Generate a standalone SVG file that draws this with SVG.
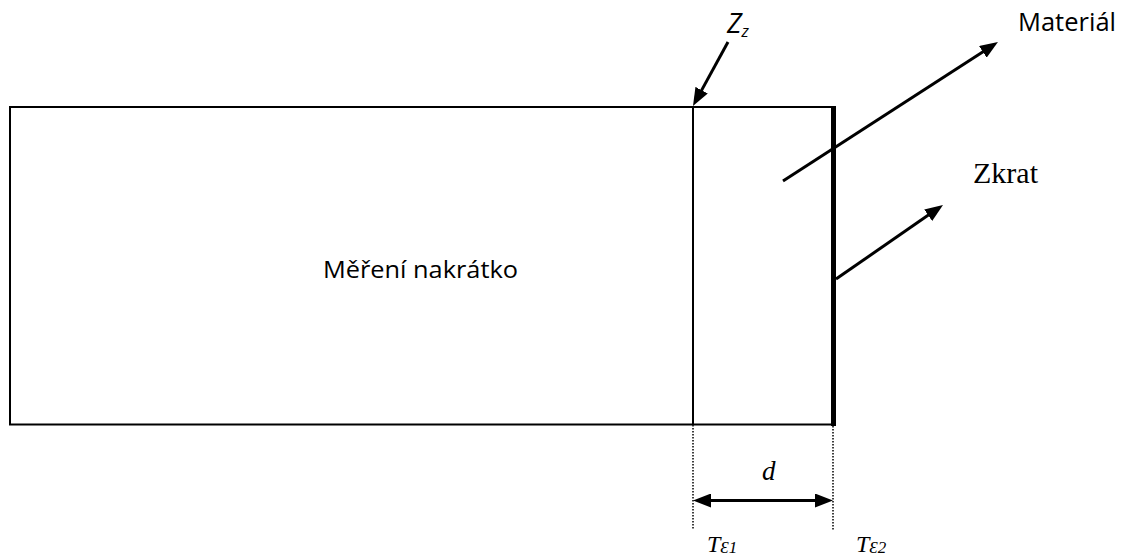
<svg xmlns="http://www.w3.org/2000/svg" width="1122" height="559" viewBox="0 0 1122 559">
<style>
.box{fill:none;stroke:#000;stroke-width:2}
.arr{fill:none;stroke:#000;stroke-width:3}
.dot{fill:none;stroke:#000;stroke-width:1.5;stroke-dasharray:1.5,1.5}
.sans{font-family:"Open Sans","Liberation Sans",sans-serif;fill:#000}
.serif{font-family:"Liberation Serif","DejaVu Serif",serif;fill:#000}
</style>
<defs>
<marker id="ah" markerUnits="userSpaceOnUse" viewBox="0 0 18 14" markerWidth="18" markerHeight="14" refX="9" refY="7" orient="auto-start-reverse">
<path d="M0,0 L18,7 L0,14 z" fill="#000"/>
</marker>
</defs>
<rect width="1122" height="559" fill="#fff"/>
<g id="outer-box">
<rect class="box" x="10" y="107" width="823" height="317.5"/>
<text class="sans" x="323" y="278" font-size="23" textLength="195" lengthAdjust="spacingAndGlyphs">Měření nakrátko</text>
</g>
<g id="material-region">
<line class="box" x1="693" y1="107" x2="693" y2="424.5"/>
</g>
<g id="short-bar">
<rect x="831" y="106" width="5" height="320" fill="#000"/>
</g>
<g id="connectors">
<line class="arr" x1="728" y1="42" x2="697.3" y2="98.1" marker-end="url(#ah)"/>
<line class="arr" x1="783" y1="181" x2="990.4" y2="46.9" marker-end="url(#ah)"/>
<line class="arr" x1="836" y1="279" x2="935.6" y2="210.1" marker-end="url(#ah)"/>
<line class="arr" x1="702" y1="500.5" x2="824" y2="500.5" marker-start="url(#ah)" marker-end="url(#ah)"/>
<line class="dot" x1="693" y1="425" x2="693" y2="530"/>
<line class="dot" x1="833" y1="426" x2="833" y2="530"/>
</g>
<g id="labels">
<text class="sans" x="727" y="33" font-size="28" font-style="italic" textLength="22" lengthAdjust="spacingAndGlyphs">Z<tspan font-size="17" dy="4">z</tspan></text>
<text class="sans" x="1018" y="31" font-size="26" textLength="98" lengthAdjust="spacingAndGlyphs">Materiál</text>
<text class="serif" x="973" y="183" font-size="30">Zkrat</text>
<text class="serif" x="762" y="480" font-size="27" font-style="italic">d</text>
<text class="serif" x="707" y="552" font-size="24" font-style="italic">T<tspan font-size="17" dy="1">Ɛ1</tspan></text>
<text class="serif" x="856" y="552" font-size="24" font-style="italic">T<tspan font-size="17" dy="1">Ɛ2</tspan></text>
</g>
</svg>
